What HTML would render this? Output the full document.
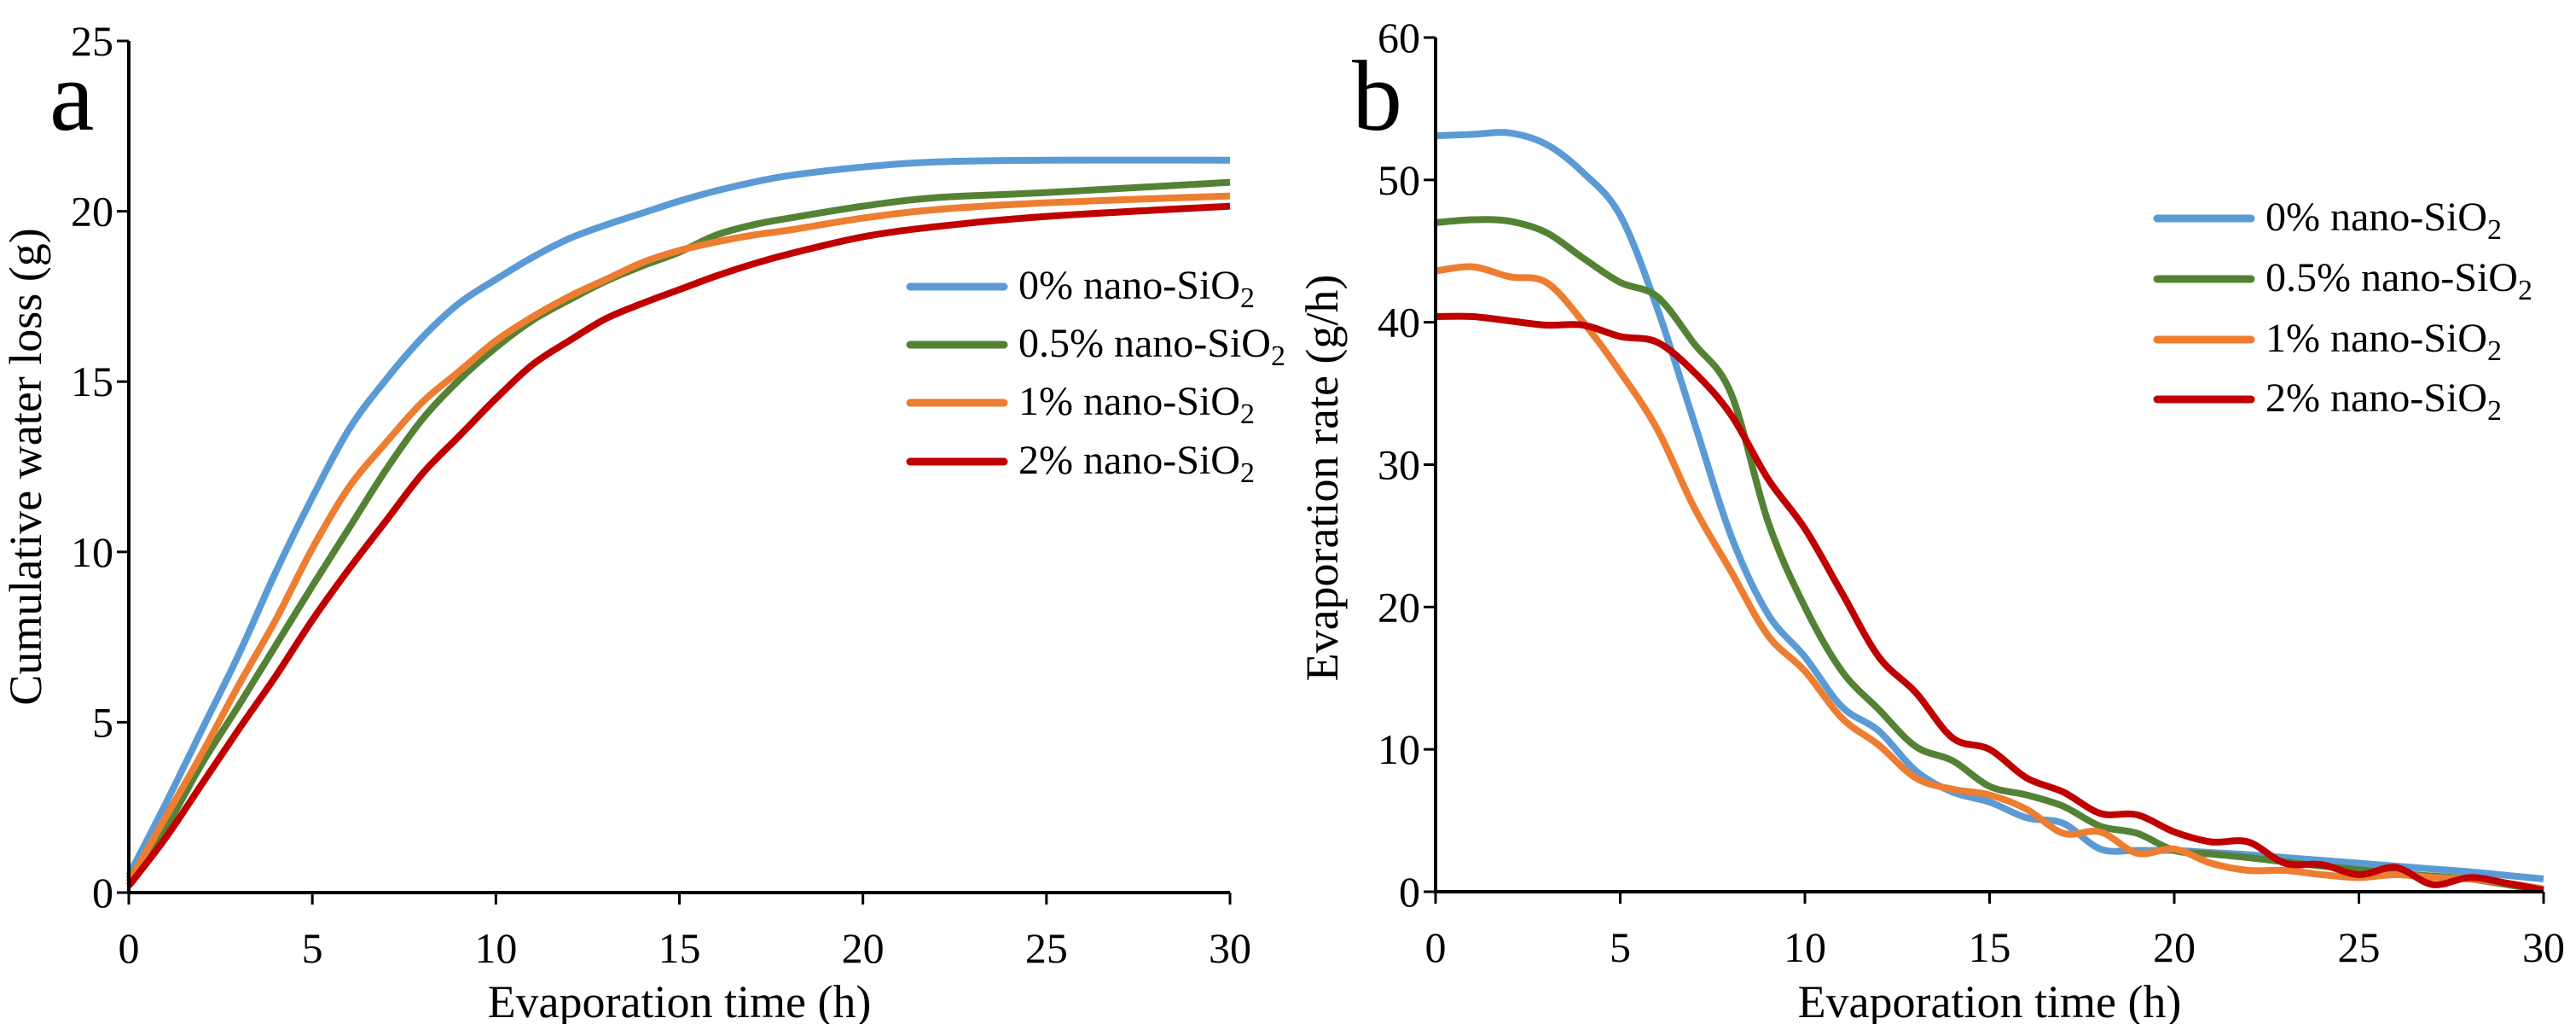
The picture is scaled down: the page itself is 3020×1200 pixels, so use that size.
<!DOCTYPE html>
<html><head><meta charset="utf-8"><style>
html,body{margin:0;padding:0;background:#fff;}
svg{display:block;}
svg text{font-family:"Liberation Serif",serif;}
</style></head><body>
<svg id="chart" width="3020" height="1200" viewBox="0 0 3020 1200" font-family="Liberation Serif, serif"></svg>
<script>
const tValsA=[0,1,2,3,4,5,6,7,8,9,10,11,12,13,14,15,16,17,18,20,22,25,30];
const a_blue=[0.5,2.6,4.8,7.0,9.4,11.6,13.6,15.05,16.3,17.3,18.0,18.65,19.2,19.6,19.95,20.3,20.6,20.85,21.05,21.3,21.45,21.5,21.5];
const a_green=[0.4,1.9,3.8,5.5,7.25,9.0,10.7,12.4,13.9,15.05,16.0,16.8,17.4,17.95,18.4,18.8,19.3,19.6,19.8,20.15,20.4,20.55,20.85];
const a_orange=[0.3,2.2,4.1,6.1,8.0,10.1,11.9,13.2,14.4,15.3,16.2,16.9,17.5,18.0,18.5,18.85,19.1,19.3,19.45,19.8,20.05,20.25,20.45];
const a_red=[0.2,1.6,3.2,4.8,6.35,8.0,9.5,10.9,12.3,13.4,14.5,15.5,16.2,16.85,17.3,17.7,18.1,18.45,18.75,19.25,19.55,19.85,20.15];
const tValsB=[0,1,2,3,4,5,6,7,8,9,10,11,12,13,14,15,16,17,18,19,20,21,22,23,24,25,26,27,28,29,30];
const b_blue=[53.1,53.2,53.3,52.5,50.5,47.5,41,33,25,19.5,16.5,13,11.3,8.5,7,6.3,5.2,4.8,3,2.9,2.9,2.75,2.6,2.4,2.2,2,1.8,1.6,1.4,1.15,0.9];
const b_green=[47,47.2,47.1,46.3,44.5,42.8,41.8,38.5,35,26,20,15.5,12.8,10.2,9.2,7.4,6.8,6,4.6,4.1,2.9,2.65,2.4,2.1,1.8,1.55,1.3,1.1,0.9,0.5,0.1];
const b_orange=[43.6,43.9,43.2,42.8,40,36.5,32.5,27,22.5,18,15.5,12.2,10.3,8,7.2,6.8,5.8,4.1,4.2,2.7,3,2,1.5,1.5,1.2,1,1.2,1,0.9,0.6,0.2];
const b_red=[40.4,40.4,40.1,39.8,39.8,39,38.6,36.5,33.5,29,25.5,21,16.5,14,10.8,10,8,7,5.5,5.4,4.2,3.5,3.5,2,1.9,1.2,1.7,0.5,1,0.6,0.1];
const legendLabels=["0%","0.5%","1%","2%"];
const colors=["#5b9bd5","#548235","#ed7d31","#c00000"];
const xTicks=[0,5,10,15,20,25,30];
const yTicksA=[0,5,10,15,20,25];
const yTicksB=[0,10,20,30,40,50,60];

const svg=document.getElementById('chart');
const NS='http://www.w3.org/2000/svg';
function mk(tag,attrs,parent){const e=document.createElementNS(NS,tag);for(const k in attrs)e.setAttribute(k,attrs[k]);(parent||svg).appendChild(e);return e;}
function smooth(pts){let d='M'+pts[0][0]+','+pts[0][1];for(let i=0;i<pts.length-1;i++){const p0=pts[Math.max(0,i-1)],p1=pts[i],p2=pts[i+1],p3=pts[Math.min(pts.length-1,i+2)];const c1=[p1[0]+(p2[0]-p0[0])/6,p1[1]+(p2[1]-p0[1])/6],c2=[p2[0]-(p3[0]-p1[0])/6,p2[1]-(p3[1]-p1[1])/6];d+=' C'+c1[0]+','+c1[1]+' '+c2[0]+','+c2[1]+' '+p2[0]+','+p2[1];}return d;}
const FF='Liberation Serif, serif';

function panel(cfg){
  const g=mk('g',{});
  
  
  const X=v=>cfg.x0+(v-0)/30*(cfg.x1-cfg.x0);
  const Y=v=>cfg.y0-(v/cfg.ymax)*(cfg.y0-cfg.y1);
  cfg.series.forEach((s,i)=>{
    const p=mk('path',{d:smooth(cfg.t.map((t,j)=>[X(t),Y(s[j])])),fill:'none',stroke:colors[i],'stroke-width':8,'stroke-linejoin':'round'},g);
    
    
  });
  const ax=mk('path',{d:`M${cfg.x0},${cfg.y1} L${cfg.x0},${cfg.y0} L${cfg.x1},${cfg.y0}`,fill:'none',stroke:'#000','stroke-width':4},g);
  
  
  xTicks.forEach(v=>{
    mk('line',{x1:X(v),x2:X(v),y1:cfg.y0,y2:cfg.y0+14,stroke:'#000','stroke-width':3},g);
    const t=mk('text',{x:X(v),y:cfg.y0+82,'font-size':50,'text-anchor':'middle','font-family':FF},g);
    t.textContent=v;
    
    
  });
  cfg.yticks.forEach(v=>{
    mk('line',{x1:cfg.x0-14,x2:cfg.x0,y1:Y(v),y2:Y(v),stroke:'#000','stroke-width':3},g);
    const t=mk('text',{x:cfg.x0-18,y:Y(v)+17,'font-size':50,'text-anchor':'end','font-family':FF},g);
    t.textContent=v;
    
    
  });
  const xt=mk('text',{x:(cfg.x0+cfg.x1)/2,y:1192,'font-size':54,'text-anchor':'middle','font-family':FF},g);
  xt.textContent='Evaporation time (h)';
  
  
  const yt=mk('text',{x:0,y:0,'font-size':54,'text-anchor':'middle','font-family':FF,transform:`translate(${cfg.ytx},${cfg.yty}) rotate(-90)`},g);
  yt.textContent=cfg.ytitle;
  
  
  const pl=mk('text',{x:cfg.lx,y:cfg.ly,'font-size':118,'font-family':FF},g);
  pl.textContent=cfg.letter;
  
  
  legendLabels.forEach((l,i)=>{
    const y=cfg.legY[i];
    const lg=mk('g',{},g);
    
    
    mk('line',{x1:cfg.legX,x2:cfg.legX+110,y1:y,y2:y,stroke:colors[i],'stroke-width':9,'stroke-linecap':'round'},lg);
    const t=mk('text',{x:cfg.legX+127,y:y+14,'font-size':48,'font-family':FF},lg);
    t.innerHTML=l+' nano-SiO<tspan font-size="34" dy="10">2</tspan>';
  });
}
panel({name:'panel-a',x0:151,x1:1442,y0:1046,y1:48,ymax:25,t:tValsA,series:[a_blue,a_green,a_orange,a_red],yticks:yTicksA,ytitle:'Cumulative water loss (g)',ytx:48,yty:547,letter:'a',lx:58,ly:152,legX:1067,legY:[336,404,472,541]});
panel({name:'panel-b',x0:1683,x1:2982,y0:1045,y1:44,ymax:60,t:tValsB,series:[b_blue,b_green,b_orange,b_red],yticks:yTicksB,ytitle:'Evaporation rate (g/h)',ytx:1568,yty:560,letter:'b',lx:1585,ly:152,legX:2529,legY:[256,327,398,468]});
</script>
</body></html>
